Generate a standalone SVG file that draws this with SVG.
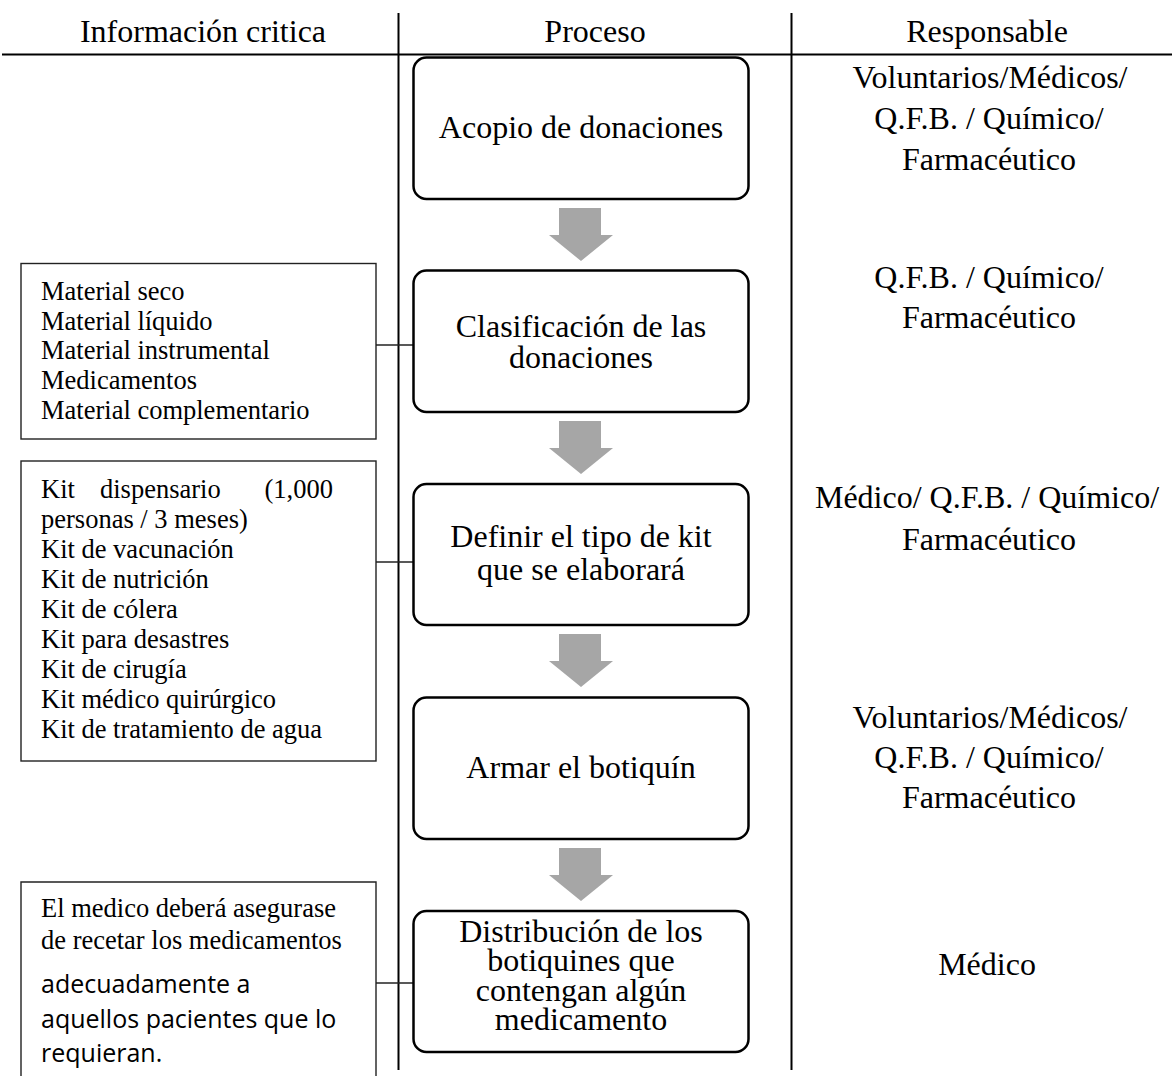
<svg xmlns="http://www.w3.org/2000/svg" width="1172" height="1076" viewBox="0 0 1172 1076">
<style>
  .serif { font-family: "Liberation Serif", "Times New Roman", serif; fill: #000; }
  .hdr { font-size: 32px; text-anchor: middle; }
  .proc { font-size: 32px; text-anchor: middle; }
  .resp { font-size: 32px; text-anchor: middle; }
  .info { font-size: 26.5px; }
  .sans { font-family: "Open Sans", "Noto Sans", "Liberation Sans", sans-serif; font-size: 25px; fill: #000; }
  .pbox { fill: #fff; stroke: #000; stroke-width: 2.5; }
  .ibox { fill: #fff; stroke: #222; stroke-width: 1.4; }
  .rule { stroke: #000; stroke-width: 2; fill: none; }
  .link { stroke: #222; stroke-width: 1.4; fill: none; }
  .arrow { fill: #a6a6a6; stroke: none; }
</style>

<g id="table">
  <line class="rule" x1="2" y1="54.5" x2="1172" y2="54.5"/>
  <line class="rule" x1="398.5" y1="13" x2="398.5" y2="1070"/>
  <line class="rule" x1="791.5" y1="13" x2="791.5" y2="1070"/>
  <text class="serif hdr" x="203" y="42">Información critica</text>
  <text class="serif hdr" x="595" y="42">Proceso</text>
  <text class="serif hdr" x="987" y="42">Responsable</text>
</g>

<g id="connectors">
  <polygon class="arrow" points="559,208 601,208 601,235 613,235 581,261 549,235 559,235"/>
  <polygon class="arrow" points="559,421 601,421 601,448 613,448 581,474 549,448 559,448"/>
  <polygon class="arrow" points="559,634 601,634 601,661 613,661 581,687 549,661 559,661"/>
  <polygon class="arrow" points="559,848 601,848 601,875 613,875 581,901 549,875 559,875"/>
  <line class="link" x1="376" y1="345" x2="413" y2="345"/>
  <line class="link" x1="376" y1="562" x2="413" y2="562"/>
  <line class="link" x1="376" y1="983" x2="413" y2="983"/>
</g>

<g id="p1">
  <rect class="pbox" x="413.5" y="57.5" width="335" height="141.5" rx="13"/>
  <text class="serif proc" x="581" y="138">Acopio de donaciones</text>
</g>
<g id="p2">
  <rect class="pbox" x="413.5" y="270.5" width="335" height="141.5" rx="13"/>
  <text class="serif proc" x="581" y="337">Clasificación de las</text>
  <text class="serif proc" x="581" y="368">donaciones</text>
</g>
<g id="p3">
  <rect class="pbox" x="413.5" y="484" width="335" height="141" rx="13"/>
  <text class="serif proc" x="581" y="547">Definir el tipo de kit</text>
  <text class="serif proc" x="581" y="580">que se elaborará</text>
</g>
<g id="p4">
  <rect class="pbox" x="413.5" y="697.5" width="335" height="141.5" rx="13"/>
  <text class="serif proc" x="581" y="778">Armar el botiquín</text>
</g>
<g id="p5">
  <rect class="pbox" x="413.5" y="911" width="335" height="141" rx="13"/>
  <text class="serif proc" x="581" y="942">Distribución de los</text>
  <text class="serif proc" x="581" y="971.3">botiquines que</text>
  <text class="serif proc" x="581" y="1000.7">contengan algún</text>
  <text class="serif proc" x="581" y="1030">medicamento</text>
</g>

<g id="info1">
  <rect class="ibox" x="21" y="263.5" width="355" height="175.5"/>
  <text class="serif info" x="41" y="300">Material seco</text>
  <text class="serif info" x="41" y="329.7">Material líquido</text>
  <text class="serif info" x="41" y="359.4">Material instrumental</text>
  <text class="serif info" x="41" y="389">Medicamentos</text>
  <text class="serif info" x="41" y="418.8">Material complementario</text>
</g>
<g id="info2">
  <rect class="ibox" x="21" y="461" width="355" height="300"/>
  <text class="serif info" y="498"><tspan x="41">Kit</tspan><tspan x="100">dispensario</tspan><tspan x="333" text-anchor="end">(1,000</tspan></text>
  <text class="serif info" x="41" y="528">personas / 3 meses)</text>
  <text class="serif info" x="41" y="558">Kit de vacunación</text>
  <text class="serif info" x="41" y="588">Kit de nutrición</text>
  <text class="serif info" x="41" y="618">Kit de cólera</text>
  <text class="serif info" x="41" y="648">Kit para desastres</text>
  <text class="serif info" x="41" y="678">Kit de cirugía</text>
  <text class="serif info" x="41" y="708">Kit médico quirúrgico</text>
  <text class="serif info" x="41" y="738">Kit de tratamiento de agua</text>
</g>
<g id="info3">
  <path class="ibox" d="M21,1080 L21,882 L376,882 L376,1080"/>
  <text class="serif info" x="41" y="917">El medico deberá asegurase</text>
  <text class="serif info" x="41" y="949">de recetar los medicamentos</text>
  <text class="sans" x="41" y="993">adecuadamente a</text>
  <text class="sans" x="41" y="1028">aquellos pacientes que lo</text>
  <text class="sans" x="41" y="1062">requieran.</text>
</g>

<g id="resp1">
  <text class="serif resp" x="990" y="88">Voluntarios/Médicos/</text>
  <text class="serif resp" x="989" y="129">Q.F.B. / Químico/</text>
  <text class="serif resp" x="989" y="170">Farmacéutico</text>
</g>
<g id="resp2">
  <text class="serif resp" x="989" y="288">Q.F.B. / Químico/</text>
  <text class="serif resp" x="989" y="328">Farmacéutico</text>
</g>
<g id="resp3">
  <text class="serif resp" x="987" y="508">Médico/ Q.F.B. / Químico/</text>
  <text class="serif resp" x="989" y="550">Farmacéutico</text>
</g>
<g id="resp4">
  <text class="serif resp" x="990" y="728">Voluntarios/Médicos/</text>
  <text class="serif resp" x="989" y="768">Q.F.B. / Químico/</text>
  <text class="serif resp" x="989" y="808">Farmacéutico</text>
</g>
<g id="resp5">
  <text class="serif resp" x="987" y="975">Médico</text>
</g>
</svg>
